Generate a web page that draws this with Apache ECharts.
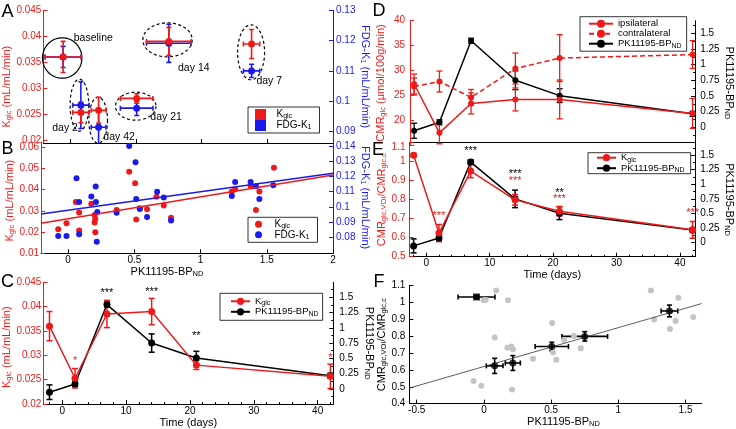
<!DOCTYPE html>
<html><head><meta charset="utf-8">
<script src="https://cdn.jsdelivr.net/npm/echarts@6/dist/echarts.min.js"></script>
<style>html,body{margin:0;padding:0;background:#fff}#c{width:736px;height:429px}</style>
</head><body><div id="c"></div>
<script>
// ---------------- DATA ----------------
const days = [-2, 2, 7, 14, 21, 42];
const dayNames = ['baseline', 'day 2', 'day 7', 'day 14', 'day 21', 'day 42'];
const bp = [-0.055, 0.08, 1.38, 0.75, 0.505, 0.215];
const bpErr = [0.12, 0.04, 0.04, 0.15, 0.11, 0.04];
const bpXErr = [0.137, 0.062, 0.062, 0.17, 0.124, 0.056];
const kglc = [0.036, 0.0253, 0.0385, 0.039, 0.028, 0.0257];
const kglcErr = [0.003, 0.002, 0.0028, 0.0027, 0.0009, 0.0025];
const fdgK1 = [0.1146, 0.0987, 0.110, 0.1191, 0.0977, 0.0914];
const fdgK1Err = [0.0035, 0.0077, 0.0022, 0.0063, 0.0024, 0.0055];
const cmrIpsi = [27.3, 17.5, 23.4, 24.2, 24.2, 21.4];
const cmrIpsiErr = [2.0, 2.2, 2.1, 2.3, 3.9, 3.0];
const cmrContra = [26.8, 27.8, 24.6, 30.4, 32.5, 33.2];
const cmrContraErr = [1.7, 2.1, 1.6, 3.1, 4.7, 2.8];
const cmrRatio = [1.033, 0.624, 0.95, 0.799, 0.739, 0.641];
const cmrRatioErr = [0.01, 0.045, 0.035, 0.028, 0.025, 0.044];

// panel A ellipses (data units) and label anchors
const ellCx = [-0.062, 0.069, 1.376, 0.74, 0.498, 0.212];
const ellCy = [0.0358, 0.0267, 0.0369, 0.0393, 0.0265, 0.0238];
const ellRx = [0.150, 0.071, 0.103, 0.188, 0.154, 0.071];
const ellRy = [0.0039, 0.0050, 0.0053, 0.00328, 0.0027, 0.00444];
const dayLabX = [0.026, -0.138, 1.417, 0.82, 0.609, 0.251];
const dayLabY = [0.0397, 0.0222, 0.03135, 0.0339, 0.02434, 0.0206];

// panel B individual animals
const bpIndK = [-0.075, -0.0125, 0.058, 0.083, 0.083, 0.175, 0.2, 0.205, 0.2, 0.205, 0.366, 0.461, 0.506, 0.514, 0.541, 0.596, 0.667, 0.722, 0.777, 1.236, 1.261, 1.378, 1.418, 1.444, 1.554];
const kglcInd = [0.0213, 0.0242, 0.0342, 0.0292, 0.0207, 0.0334, 0.0281, 0.0262, 0.0245, 0.0199, 0.0304, 0.0485, 0.043, 0.026, 0.0312, 0.0308, 0.0367, 0.0325, 0.0268, 0.0391, 0.0402, 0.0418, 0.0304, 0.0391, 0.0503];
const bpIndF = [-0.075, -0.0125, 0.063, 0.083, 0.083, 0.175, 0.208, 0.21, 0.22, 0.216, 0.366, 0.461, 0.509, 0.514, 0.541, 0.596, 0.672, 0.722, 0.777, 1.236, 1.261, 1.378, 1.418, 1.444, 1.549];
const fdgInd = [0.0809, 0.0809, 0.1188, 0.1032, 0.082, 0.1068, 0.1133, 0.1032, 0.0967, 0.0771, 0.0962, 0.14, 0.1293, 0.1052, 0.0986, 0.0934, 0.11, 0.1061, 0.091, 0.1072, 0.1164, 0.1164, 0.1136, 0.1052, 0.1142];
const fitBx = [-0.205, 2.0];
const fitBk = [0.0242, 0.0469];
const fitBf = [0.0953, 0.1221];

// panel F individual animals + fit
const bpIndR = [0.092, -0.002, 0.013, 0.179, 1.242, 1.446, 1.557, 1.426, 1.267, 1.384, 0.507, 0.08, 0.174, 0.204, 0.216, 0.596, 0.67, 0.72, 0.514, 0.365, 0.539, -0.077, -0.019, 0.209];
const ratioInd = [1.072, 1.013, 1.015, 1.013, 1.072, 1.029, 0.914, 0.891, 0.9, 0.843, 0.879, 0.793, 0.732, 0.739, 0.722, 0.779, 0.802, 0.728, 0.703, 0.667, 0.661, 0.534, 0.506, 0.483];
const fitFx = [-0.555, 1.62];
const fitFy = [0.492, 0.994];

// significance stars
const starsCx = [2, 7, 14, 21, 42];
const starsCy = [0.0295, 0.0435, 0.0436, 0.0345, 0.0301];
const starsCt = ['*', '***', '***', '**', '*'];
const starsCs = ['k', 'bp', 'bp', 'bp', 'k'];
const starsEx = [2, 7, 14, 14, 21, 21, 42];
const starsEy = [0.732, 1.07, 0.953, 0.913, 0.851, 0.819, 0.746];
const starsEt = ['***', '***', '***', '***', '**', '***', '***'];
const starsEs = ['k', 'bp', 'bp', 'k', 'bp', 'k', 'k'];

// tick values
const ticksAk = [0.02, 0.025, 0.03, 0.035, 0.04, 0.045];
const ticksAf = [0.09, 0.1, 0.11, 0.12, 0.13];
const ticksBk = [0.01, 0.02, 0.03, 0.04, 0.05, 0.06];
const ticksBf = [0.08, 0.09, 0.1, 0.11, 0.12, 0.13, 0.14];
const ticksBP = [0, 0.5, 1, 1.5, 2];
const ticksDay = [0, 10, 20, 30, 40];
const minorDay = [-2, 2, 4, 6, 8, 12, 14, 16, 18, 22, 24, 26, 28, 32, 34, 36, 38, 42];
const ticksBPr = [0, 0.25, 0.5, 0.75, 1, 1.25, 1.5];
const minorBPr = [-0.125, 0.125, 0.375, 0.625, 0.875, 1.125, 1.375, 1.625];
const ticksCMR = [15, 20, 25, 30, 35, 40];
const labelsCMR = [20, 25, 30, 35, 40];
const ticksRatioE = [0.5, 0.6, 0.7, 0.8, 0.9, 1, 1.1];
const ticksRatioF = [0.4, 0.5, 0.6, 0.7, 0.8, 0.9, 1, 1.1];
const ticksBPF = [-0.5, 0, 0.5, 1, 1.5];

// ---------------- STYLE ----------------
const FONT = 'Liberation Sans, Arial, Helvetica, sans-serif';
const RED = '#ee1a1a', BLUE = '#1a1aee', BLACK = '#000', GRAY = '#c4c4c4';
const richName = {
  n: {fontSize: 11, fontFamily: FONT, lineHeight: 12},
  s: {fontSize: 7.5, fontFamily: FONT, lineHeight: 4, verticalAlign: 'bottom'}
};
const richLeg = (fs) => ({
  n: {fontSize: fs, fontFamily: FONT, lineHeight: 11, color: '#000'},
  s: {fontSize: 7, fontFamily: FONT, lineHeight: 4, verticalAlign: 'bottom', color: '#000'}
});
const NK = '{n|K}{s|glc}{n| (mL/mL/min)}';
const NF = '{n|FDG-K}{s|1}{n| (mL/mL/min)}';
const NBP = '{n|PK11195-BP}{s|ND}';
const NT = '{n|Time (days)}';
const NCMR = '{n|CMR}{s|glc}{n| (\u03bcmol/100g/min)}';
const NRAT = '{n|CMR}{s|glc,VOI}{n|/CMR}{s|glc,c}';
const fmt = v => String(Math.round(v * 10000) / 10000);

function axis(o) {
  const col = o.color || BLACK;
  return {
    type: 'value', gridIndex: o.grid, position: o.pos, min: o.min, max: o.max,
    name: o.name || '', nameLocation: 'middle', nameGap: o.nameGap || 10,
    nameRotate: o.rot, nameTextStyle: {color: col, rich: richName, padding: o.namePad || 0},
    axisLine: {show: o.line !== false, onZero: false, lineStyle: {color: col, width: 1}},
    axisTick: {show: !!o.ticks, inside: true, length: o.tickLen || 4, customValues: o.ticks, lineStyle: {color: col}},
    axisLabel: {show: !!o.labels, customValues: o.labels, margin: o.margin || 3, color: col,
      fontSize: 10, fontFamily: FONT, formatter: o.fmt || fmt, rich: o.rich},
    splitLine: {show: false}
  };
}
function minorAxis(grid, pos, min, max, vals, color) {
  return axis({grid: grid, pos: pos, min: min, max: max, ticks: vals, color: color, line: false, tickLen: 2});
}

function errBars(xi, yi, xs, ys, exs, eys, color, cap, lw, clip) {
  return {
    type: 'custom', xAxisIndex: xi, yAxisIndex: yi, silent: true, clip: !!clip, z: 2,
    dimensions: ['x', 'y', 'ex', 'ey'], encode: {x: 0, y: 1},
    data: xs.map((x, i) => [x, ys[i], exs ? exs[i] : 0, eys ? eys[i] : 0]),
    renderItem(p, api) {
      const x = api.value(0), y = api.value(1), ex = api.value(2), ey = api.value(3);
      const st = {stroke: color, lineWidth: lw};
      const ch = [];
      const ln = (a, b, c, d) => ch.push({type: 'line', shape: {x1: a, y1: b, x2: c, y2: d}, style: st});
      if (ey > 0) {
        const t = api.coord([x, y + ey]), b = api.coord([x, y - ey]);
        ln(t[0], t[1], b[0], b[1]);
        ln(t[0] - cap, t[1], t[0] + cap, t[1]);
        ln(b[0] - cap, b[1], b[0] + cap, b[1]);
      }
      if (ex > 0) {
        const l = api.coord([x - ex, y]), r = api.coord([x + ex, y]);
        ln(l[0], l[1], r[0], r[1]);
        ln(l[0], l[1] - cap, l[0], l[1] + cap);
        ln(r[0], r[1] - cap, r[0], r[1] + cap);
      }
      return {type: 'group', children: ch};
    }
  };
}

function texts(xi, yi, xs, ys, labels, colors, align, size, dy) {
  return {
    type: 'custom', xAxisIndex: xi, yAxisIndex: yi, silent: true, clip: false, z: 5,
    dimensions: ['x', 'y'], encode: {x: 0, y: 1},
    data: xs.map((x, i) => [x, ys[i]]),
    renderItem(p, api) {
      const c = api.coord([api.value(0), api.value(1)]);
      return {type: 'text', x: c[0], y: c[1] + (dy || 0), style: {
        text: labels[p.dataIndex], fill: colors[p.dataIndex],
        font: size + 'px ' + FONT, align: align, verticalAlign: 'middle'}};
    }
  };
}

function lineSeries(name, xi, yi, xs, ys, color, dashed, size) {
  return {
    type: 'line', name: name, xAxisIndex: xi, yAxisIndex: yi, z: 3,
    data: xs.map((x, i) => [x, ys[i]]),
    symbol: 'circle', symbolSize: size || 7, showSymbol: true,
    itemStyle: {color: color}, lineStyle: {color: color, width: 1.5, type: dashed ? [5, 3] : 'solid'},
    silent: true
  };
}

function scatter(name, xi, yi, xs, ys, color, size, symbol) {
  return {
    type: 'scatter', name: name, xAxisIndex: xi, yAxisIndex: yi, z: 3, silent: true,
    symbol: symbol || 'circle', symbolSize: size,
    data: xs.map((x, i) => [x, ys[i]]), itemStyle: {color: color, opacity: 1}
  };
}

function fitLine(xi, yi, xs, ys, color, w) {
  return {type: 'line', xAxisIndex: xi, yAxisIndex: yi, z: 4, silent: true, symbol: 'none',
    data: xs.map((x, i) => [x, ys[i]]), lineStyle: {color: color, width: w}};
}

// ---------------- OPTION ----------------
const grids = [
  {left: 41, top: 10.3, width: 292, height: 132.7},
  {left: 41, top: 142, width: 292, height: 111.3},
  {left: 41, top: 282.3, width: 292.3, height: 125},
  {left: 410, top: 20.7, width: 290, height: 124.6},
  {left: 409.5, top: 142.5, width: 290.5, height: 114.2},
  {left: 409.3, top: 285.7, width: 292.4, height: 122}
];

const xAxes = [
  axis({grid: 0, pos: 'bottom', min: -0.205, max: 2.0, ticks: [0, 0.5, 1, 1.5]}),
  axis({grid: 1, pos: 'bottom', min: -0.205, max: 2.0, ticks: ticksBP, labels: ticksBP, margin: 2,
        name: NBP, nameGap: 9, namePad: [0, 40, 0, 0]}),
  axis({grid: 2, pos: 'bottom', min: -2.95, max: 42.45, ticks: ticksDay, labels: ticksDay, margin: 2,
        name: NT, nameGap: 10}),
  axis({grid: 3, pos: 'bottom', min: -2.65, max: 42.4, line: false}),
  axis({grid: 4, pos: 'bottom', min: -2.65, max: 42.4, ticks: ticksDay, labels: ticksDay, margin: 2,
        name: NT, nameGap: 10}),
  axis({grid: 5, pos: 'bottom', min: -0.555, max: 1.62, ticks: ticksBPF, labels: ticksBPF, margin: 2,
        name: NBP, nameGap: 10, namePad: [0, 0, 0, 16]}),
  axis({grid: 4, pos: 'top', min: -2.65, max: 42.4}),
  minorAxis(2, 'bottom', -2.95, 42.45, minorDay, BLACK),
  minorAxis(4, 'bottom', -2.65, 42.4, minorDay, BLACK)
];

const yAxes = [
  axis({grid: 0, pos: 'left', min: 0.0194, max: 0.045, ticks: ticksAk, labels: ticksAk, color: RED, margin: 2, name: NK, nameGap: 25, namePad: [0, 20, 0, 0]}),
  axis({grid: 0, pos: 'right', min: 0.0862, max: 0.13, ticks: ticksAf, labels: ticksAf, color: BLUE, margin: 3, name: NF, nameGap: 25, rot: -90}),
  axis({grid: 1, pos: 'left', min: 0.01, max: 0.0625, ticks: ticksBk, labels: ticksBk, color: RED, margin: 2, name: NK, nameGap: 25, namePad: [0, 6, 0, 0]}),
  axis({grid: 1, pos: 'right', min: 0.0695, max: 0.1426, ticks: ticksBf, labels: ticksBf, color: BLUE, margin: 3, name: NF, nameGap: 25, rot: -90}),
  axis({grid: 2, pos: 'left', min: 0.02, max: 0.045, ticks: ticksAk, labels: ticksAk, color: RED, margin: 2, name: NK, nameGap: 25, namePad: [0, 8, 0, 0]}),
  axis({grid: 2, pos: 'right', min: -0.25, max: 1.745, ticks: ticksBPr, labels: ticksBPr, color: BLACK, margin: 6, name: NBP, nameGap: 28, rot: -90}),
  axis({grid: 3, pos: 'left', min: 15, max: 40, ticks: ticksCMR, labels: labelsCMR, color: RED, margin: 5, name: NCMR, nameGap: 23}),
  axis({grid: 3, pos: 'right', min: -0.287, max: 1.70, ticks: ticksBPr, labels: ticksBPr, color: BLACK, margin: 5, name: NBP, nameGap: 27, rot: -90}),
  axis({grid: 4, pos: 'left', min: 0.5, max: 1.1, ticks: ticksRatioE, labels: ticksRatioE, color: RED, margin: 4, name: NRAT, nameGap: 19,
        fmt: v => (Math.abs(v - 1.1) < 1e-6 ? '{t|1.1}' : fmt(v)), rich: {t: {fontSize: 10, fontFamily: FONT, color: RED, padding: [9, 0, 0, 0]}}}),
  axis({grid: 4, pos: 'right', min: -0.24, max: 1.715, ticks: ticksBPr, labels: ticksBPr, color: BLACK, margin: 5, name: NBP, nameGap: 27, rot: -90}),
  axis({grid: 5, pos: 'left', min: 0.4, max: 1.1, ticks: ticksRatioF, labels: ticksRatioF, color: BLACK, margin: 4, name: NRAT, nameGap: 16}),
  minorAxis(2, 'right', -0.25, 1.745, minorBPr, BLACK),
  minorAxis(3, 'right', -0.287, 1.70, minorBPr, BLACK),
  minorAxis(4, 'right', -0.24, 1.715, minorBPr, BLACK)
];

const series = [];
// ---- A ----
series.push({
  type: 'custom', xAxisIndex: 0, yAxisIndex: 0, silent: true, clip: false, z: 1,
  dimensions: ['x', 'y', 'rx', 'ry'], encode: {x: 0, y: 1},
  data: ellCx.map((x, i) => [x, ellCy[i], ellRx[i], ellRy[i]]),
  renderItem(p, api) {
    const cx = api.value(0), cy = api.value(1), rx = api.value(2), ry = api.value(3);
    const c = api.coord([cx, cy]);
    const a = Math.abs(api.coord([cx + rx, cy])[0] - c[0]);
    const b = Math.abs(api.coord([cx, cy + ry])[1] - c[1]);
    const pts = [];
    for (let k = 0; k < 90; k++) { const t = k / 90 * 2 * Math.PI; pts.push([c[0] + a * Math.cos(t), c[1] + b * Math.sin(t)]); }
    const solid = days[p.dataIndex] < 0;
    return {type: 'polygon', shape: {points: pts}, style: {fill: 'none', stroke: '#000', lineWidth: 1.2, lineDash: solid ? null : [3, 2.5]}};
  }
});
series.push(errBars(0, 1, bp, fdgK1, bpXErr, fdgK1Err, BLUE, 2.5, 1.6, true));
series.push(scatter('fA', 0, 1, bp, fdgK1, BLUE, 7));
series.push(errBars(0, 0, bp, kglc, bpXErr, kglcErr, RED, 2.5, 1.6, true));
series.push(scatter('kA', 0, 0, bp, kglc, RED, 7));
series.push(texts(0, 0, dayLabX, dayLabY, dayNames, dayNames.map(() => '#000'), 'left', 10.5, 0));
// ---- B ----
series.push(scatter('kB', 1, 2, bpIndK, kglcInd, RED, 6));
series.push(scatter('fB', 1, 3, bpIndF, fdgInd, BLUE, 6));
series.push(fitLine(1, 2, fitBx, fitBk, RED, 1.5));
series.push(fitLine(1, 3, fitBx, fitBf, BLUE, 1.5));
// ---- C ----
series.push(errBars(2, 5, days, bp, null, bpErr, BLACK, 3, 1.5));
series.push(lineSeries('bpC', 2, 5, days, bp, BLACK));
series.push(errBars(2, 4, days, kglc, null, kglcErr, RED, 3, 1.5));
series.push(lineSeries('kC', 2, 4, days, kglc, RED));
series.push(texts(2, 4, starsCx, starsCy, starsCt, starsCs.map(s => s === 'k' ? RED : BLACK), 'center', 11, 3));
// ---- D ----
series.push(errBars(3, 7, days, bp, null, bpErr, BLACK, 3, 1.3));
series.push(lineSeries('bpD', 3, 7, days, bp, BLACK, false, 6));
series.push(errBars(3, 6, days, cmrContra, null, cmrContraErr, RED, 3, 1.3));
series.push(lineSeries('contra', 3, 6, days, cmrContra, RED, true, 6));
series.push(errBars(3, 6, days, cmrIpsi, null, cmrIpsiErr, RED, 3, 1.3));
series.push(lineSeries('ipsi', 3, 6, days, cmrIpsi, RED, false, 6));
// ---- E ----
series.push(errBars(4, 9, days, bp, null, bpErr, BLACK, 3, 1.5));
series.push(lineSeries('bpE', 4, 9, days, bp, BLACK));
series.push(errBars(4, 8, days, cmrRatio, null, cmrRatioErr, RED, 3, 1.5));
series.push(lineSeries('kE', 4, 8, days, cmrRatio, RED));
series.push(texts(4, 8, starsEx, starsEy, starsEt, starsEs.map(s => s === 'k' ? RED : BLACK), 'center', 11, 3));
// ---- F ----
series.push(scatter('', 5, 10, bpIndR, ratioInd, GRAY, 6));
series.push(fitLine(5, 10, fitFx, fitFy, '#333', 0.8));
series.push(errBars(5, 10, bp, cmrRatio, bpXErr, cmrRatioErr, BLACK, 2.5, 1.6));
series.push({
  type: 'scatter', xAxisIndex: 5, yAxisIndex: 10, z: 4, silent: true,
  data: bp.map((x, i) => ({value: [x, cmrRatio[i]], symbol: days[i] < 0 ? 'rect' : 'circle'})),
  symbolSize: 7, itemStyle: {color: BLACK}
});

const LT = {
  kA: '{n|K}{s|glc}', fA: '{n|FDG-K}{s|1}', kB: '{n|K}{s|glc}', fB: '{n|FDG-K}{s|1}',
  kC: '{n|K}{s|glc}', bpC: '{n|PK11195-BP}{s|ND}', ipsi: '{n|ipsilateral}', contra: '{n|contralateral}',
  bpD: '{n|PK11195-BP}{s|ND}', kE: '{n|K}{s|glc}', bpE: '{n|PK11195-BP}{s|ND}'
};
const SQ = 'path://M0,0L10,0L10,10L0,10Z';
function legend(o, fs) {
  return Object.assign({
    orient: 'vertical', selectedMode: false, borderColor: '#000', borderWidth: 0.8, borderRadius: 0,
    backgroundColor: '#fff', itemGap: 0, textStyle: {fontSize: fs, fontFamily: FONT, color: '#000', rich: richLeg(fs)},
    formatter: n => LT[n], symbolKeepAspect: true
  }, o);
}
const legends = [
  legend({left: 248, top: 107, padding: [2, 8, 2, 7], itemWidth: 22, itemHeight: 11,
    data: [{name: 'kA', icon: SQ}, {name: 'fA', icon: SQ}]}, 10),
  legend({left: 248, top: 217.3, padding: [2, 8, 2, 7], itemWidth: 22, itemHeight: 7,
    data: [{name: 'kB', icon: 'circle'}, {name: 'fB', icon: 'circle'}]}, 10),
  legend({left: 220, top: 293.3, padding: [3, 4, 3, 10], itemWidth: 19, itemHeight: 9,
    data: ['kC', 'bpC']}, 9.5),
  legend({left: 580, top: 16.7, padding: [2, 5, 2, 8], itemWidth: 24, itemHeight: 10,
    data: ['ipsi', 'contra', 'bpD']}, 9.5),
  legend({left: 588, top: 152.7, padding: [0, 6, 0, 8], itemWidth: 19, itemHeight: 9,
    data: ['kE', 'bpE']}, 9.5)
];

const letters = [['A', 7.5, 12.5], ['B', 7.5, 149], ['C', 7.5, 282.5], ['D', 379, 11], ['E', 378, 150.5], ['F', 379, 282.5]];

const chart = echarts.init(document.getElementById('c'), null, {renderer: 'canvas'});
chart.setOption({
  animation: false,
  backgroundColor: '#fff',
  textStyle: {fontFamily: FONT},
  grid: grids,
  xAxis: xAxes,
  yAxis: yAxes,
  legend: legends,
  series: series,
  graphic: letters.map(l => ({type: 'text', x: l[1], y: l[2], z: 100,
    style: {text: l[0], font: '18px ' + FONT, fill: '#000', align: 'center', verticalAlign: 'middle'}}))
});
</script></body></html>
